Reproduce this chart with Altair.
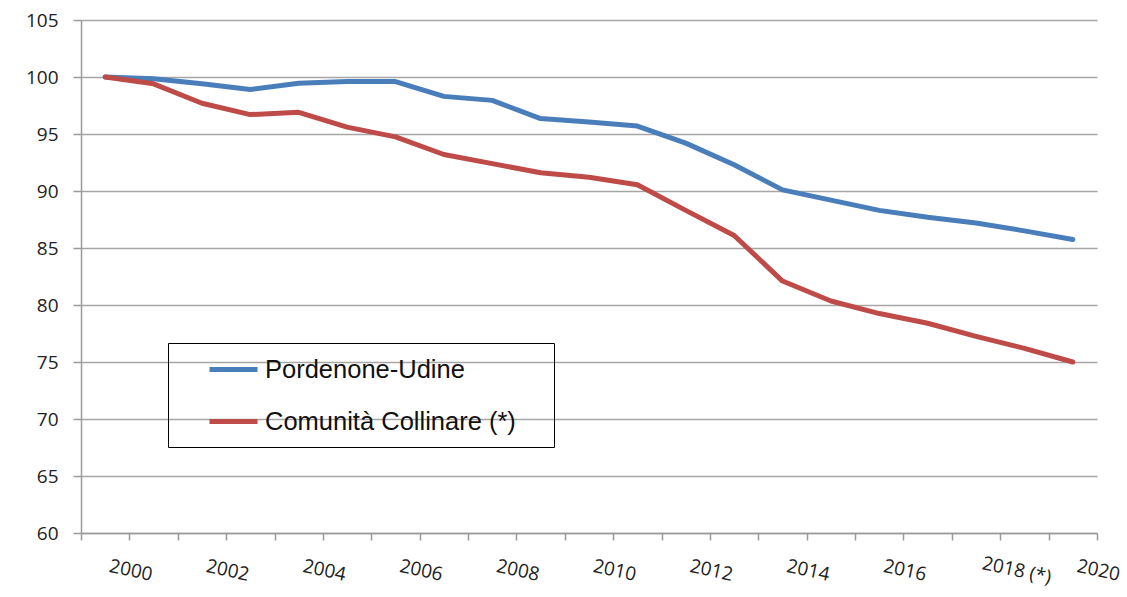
import altair as alt
import pandas as pd

YEARS = [2000, 2001, 2002, 2003, 2004, 2005, 2006, 2007, 2008, 2009, 2010,
         2011, 2012, 2013, 2014, 2015, 2016, 2017, 2018, 2019, 2020]
PORDENONE_UDINE = [100, 99.85, 99.4, 98.9, 99.45, 99.6, 99.6, 98.3, 97.95, 96.35, 96.05,
                   95.7, 94.2, 92.3, 90.1, 89.2, 88.3, 87.7, 87.2, 86.5, 85.75]
COMUNITA = [100, 99.4, 97.7, 96.7, 96.9, 95.6, 94.75, 93.2, 92.4, 91.6, 91.2,
            90.55, 88.3, 86.1, 82.1, 80.35, 79.25, 78.4, 77.25, 76.2, 75.0]
SERIES = ["Pordenone-Udine", "Comunità Collinare (*)"]
COLORS = ["#4A7EBB", "#BE4B48"]
X_TICKS = [1999, 2000, 2001, 2002, 2003, 2004, 2005, 2006, 2007, 2008, 2009, 2010,
           2011, 2012, 2013, 2014, 2015, 2016, 2017, 2018, 2019, 2020]
Y_TICKS = [60, 65, 70, 75, 80, 85, 90, 95, 100, 105]

rows = []
for name, vals in zip(SERIES, [PORDENONE_UDINE, COMUNITA]):
    for y, v in zip(YEARS, vals):
        rows.append({"anno": y, "serie": name, "valore": v})
df = pd.DataFrame(rows)

# invisible spacer title below the entries widens / pads the legend frame
legend = alt.Legend(
    title="M" * 46 + "I", titleOrient="bottom", titlePadding=2, titleOpacity=0,
    titleFont="Liberation Sans", titleFontSize=10, titleLimit=2000,
    orient="none", legendX=87, legendY=323, direction="vertical",
    strokeColor="#000000", padding=0, symbolOffset=39, symbolType="stroke",
    symbolSize=2304, symbolStrokeWidth=5, labelFont="Liberation Sans",
    labelFontSize=25.5, labelColor="#111111", labelOffset=5, rowPadding=12,
    labelLimit=0,
)

x_axis = alt.Axis(
    values=X_TICKS, format="d", grid=False, title=None,
    labelExpr="datum.value % 2 == 0 ? (datum.value == 2018 ? '2018 (*)' : datum.label) : ''",
    labelOverlap=False, labelAngle=12, labelAlign="center", labelBaseline="middle",
    labelPadding=30, tickSize=7, tickColor="#9a9a9a", tickWidth=1.5,
    domainColor="#9a9a9a", domainWidth=1.5,
    labelFont="Open Sans", labelFontSize=19, labelColor="#222222",
    labelOffset={"condition": {"test": "datum.value == 2018", "value": 16}, "value": 1},
)
y_axis = alt.Axis(
    values=Y_TICKS, title=None, grid=True, gridColor="#a6a6a6", gridWidth=1.5,
    tickSize=8, tickColor="#9a9a9a", tickWidth=1.5, domainColor="#9a9a9a",
    domainWidth=1.5, labelPadding=15, labelFont="Open Sans", labelFontSize=19,
    labelColor="#222222",
)

base = alt.Chart(df).transform_calculate(pos="datum.anno - 0.5").mark_line(
    strokeWidth=5, strokeCap="round", strokeJoin="round"
).encode(
    x=alt.X("pos:Q", scale=alt.Scale(domain=[1999, 2020], nice=False, zero=False), axis=x_axis),
    y=alt.Y("valore:Q", scale=alt.Scale(domain=[60, 105], nice=False, zero=False), axis=y_axis),
    color=alt.Color("serie:N", scale=alt.Scale(domain=SERIES, range=COLORS), legend=legend),
)

blue = base.transform_filter(alt.datum.serie == SERIES[0])
red = base.transform_filter(alt.datum.serie == SERIES[1])

chart = alt.layer(blue, red).properties(
    width=1016, height=513,
    autosize=alt.AutoSizeParams(type="none"),
    padding={"left": 81, "top": 20, "right": 30, "bottom": 64},
    background="white",
).configure_view(stroke=None)

chart.save("out.html", embed_options={"renderer": "svg", "actions": False})
